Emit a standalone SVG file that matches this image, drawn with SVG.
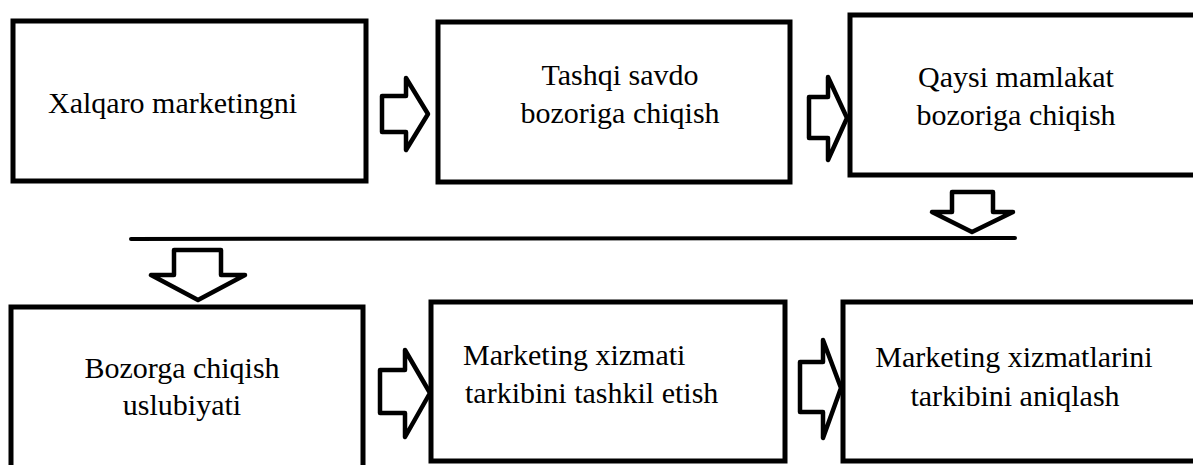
<svg xmlns="http://www.w3.org/2000/svg" width="1193" height="465" viewBox="0 0 1193 465">
<style>
.box{fill:#fff;stroke:#000;stroke-width:5}
.arr{fill:#fff;stroke:#000;stroke-width:4.5;stroke-linejoin:round}
.ln{stroke:#000;stroke-width:4;stroke-linecap:round}
.t{font-size:30px;fill:#000}
.c{text-anchor:middle}
</style>
<rect width="1193" height="465" fill="#fff"/>
<g font-family="Liberation Serif, DejaVu Serif, serif">
<g id="n1"><rect class="box" x="13" y="21" width="353" height="160"/><text class="t" x="48" y="113">Xalqaro marketingni</text></g>
<g id="n2"><rect class="box" x="438" y="22" width="352" height="160"/><text class="t c" x="620" y="85">Tashqi savdo</text><text class="t c" x="620" y="123">bozoriga chiqish</text></g>
<g id="n3"><rect class="box" x="850" y="15" width="360" height="160"/><text class="t c" x="1016" y="87">Qaysi mamlakat</text><text class="t c" x="1016" y="125">bozoriga chiqish</text></g>
<g id="n4"><rect class="box" x="11" y="307" width="352" height="180"/><text class="t c" x="182" y="378">Bozorga chiqish</text><text class="t c" x="182" y="415">uslubiyati</text></g>
<g id="n5"><rect class="box" x="431" y="302" width="354" height="159"/><text class="t" x="463" y="365">Marketing xizmati</text><text class="t" x="465" y="403">tarkibini tashkil etish</text></g>
<g id="n6"><rect class="box" x="843" y="302" width="370" height="159"/><text class="t c" x="1014" y="367">Marketing xizmatlarini</text><text class="t c" x="1015" y="406">tarkibini aniqlash</text></g>
</g>
<g id="connectors">
<polygon class="arr" points="382,96 406,96 406,78 428,114 406,150 406,132 382,132"/>
<polygon class="arr" points="809,97 828,97 828,77 847,118 828,160 828,138 809,138"/>
<polygon class="arr" points="952,192 993,192 993,212 1013,212 972,232 932,212 952,212"/>
<line class="ln" x1="131" y1="239" x2="1015" y2="238"/>
<polygon class="arr" points="174,250 221,250 221,275 245,275 198,300 151,275 174,275"/>
<polygon class="arr" points="380,370 405,370 405,350 430,393 405,437 405,413 380,413"/>
<polygon class="arr" points="800,362 823,362 823,340 841,388 823,438 823,412 800,412"/>
</g>
</svg>
